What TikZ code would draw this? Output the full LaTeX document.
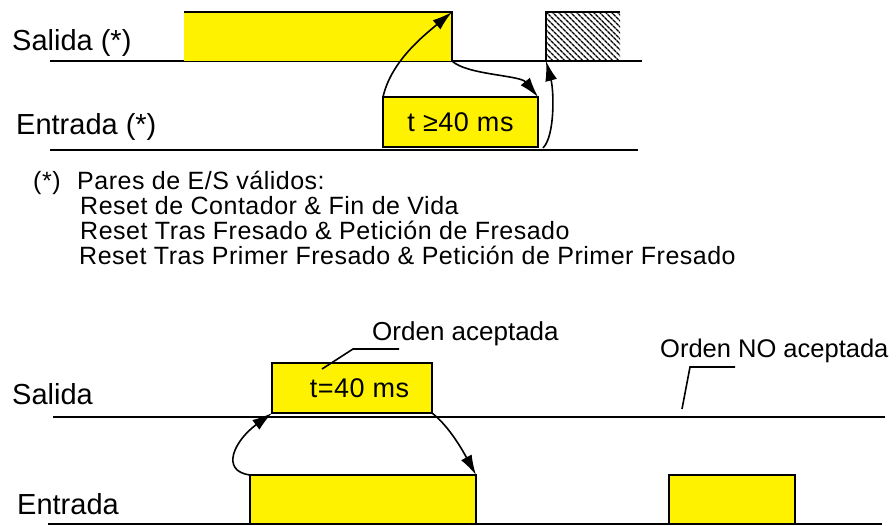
\documentclass[tikz,border=0pt]{standalone}
\usepackage{fontspec}
\setmainfont{Liberation Sans}
\newfontfamily\notefont[LetterSpace=2]{Liberation Sans}
\usetikzlibrary{arrows.meta,patterns.meta}
\begin{document}
\begin{tikzpicture}[x=1pt,y=-1pt,
  sig/.style={line width=2.2pt},
  lbl/.style={anchor=base west,inner sep=0,font=\fontsize{29}{33}\selectfont},
  note/.style={anchor=base west,inner sep=0,font=\notefont\fontsize{25}{28}\selectfont},
  pulse/.style={fill=yellow,draw,line width=2pt,inner sep=0,outer sep=0,anchor=north west},
  edge/.style={-{Latex[length=20pt,width=12pt]},line width=1.6pt},
  lead/.style={line width=1.6pt}]
  \useasboundingbox (0,0) rectangle (896,526);
  \node[lbl] (salA) at (12,51) {Salida (*)};
  \node[lbl] (entA) at (16,135) {Entrada (*)};
  \draw[sig] (50,61) -- (642,61);
  \draw[sig] (50,150) -- (638,150);
  \node[pulse,draw=none,minimum width=268pt,minimum height=49pt] (sA) at (184,12) {};
  \draw[sig] (sA.north west) -- (sA.north east) -- (sA.south east);
  \node[pulse,draw=none,fill=white,pattern={Lines[angle=-45,distance=4pt,line width=1.4pt]},
    minimum width=74pt,minimum height=49pt] (sB) at (546,12) {};
  \draw[sig] (sB.south west) -- (sB.north west) -- (sB.north east);
  \node[pulse,minimum width=155pt,minimum height=50pt,font=\notefont\fontsize{27}{30}\selectfont]
    (tA) at (383,97) {t ≥40 ms};
  \coordinate (cA) at (543,148);
  \draw[edge] (tA.north west) .. controls +(8,-35) and +(-30,25) .. (sA.north east);
  \draw[edge] (sA.south east) .. controls +(15,14) and +(-18,-22) .. (tA.north east);
  \draw[edge] (cA) .. controls +(12,-12) and +(8,30) .. (sB.south west);
  \node[note] (stA) at (33,190) {(*)};
  \node[note] (nA) at (77,190) {Pares de E/S válidos:};
  \foreach \y/\s/\txt in {215/80/{Reset de Contador \& Fin de Vida},
    240/80/{Reset Tras Fresado \& Petición de Fresado},
    265/79/{Reset Tras Primer Fresado \& Petición de Primer Fresado}}
    \node[note] at (\s,\y) {\txt};
  \node[lbl] (salB) at (12,404) {Salida};
  \node[lbl] (entB) at (17,514) {Entrada};
  \draw[sig] (53,417) -- (885,417);
  \draw[sig] (48,524) -- (882,524);
  \node[pulse,minimum width=160pt,minimum height=50pt,font=\notefont\fontsize{27}{30}\selectfont]
    (oA) at (272,363) {\hspace{15pt}t=40 ms};
  \node[pulse,minimum width=226pt,minimum height=49pt] (iA) at (250,475) {};
  \node[pulse,minimum width=126pt,minimum height=49pt] (iB) at (669,475) {};
  \draw[edge] (iA.north west) .. controls +(-30,-4) and +(-38,28) .. (oA.south west);
  \draw[edge] (oA.south east) .. controls +(18,14) and +(-12,-22) .. (iA.north east);
  \coordinate (pA) at (322,369);
  \coordinate (kA) at (353,349);
  \coordinate (qA) at (399,349);
  \draw[lead] (pA) -- (kA) -- (qA);
  \node[note,font=\fontsize{26}{30}\selectfont] (okA) at (372,341) {Orden aceptada};
  \coordinate (pB) at (682,409);
  \coordinate (kB) at (690,367);
  \coordinate (qB) at (735,367);
  \draw[lead] (pB) -- (kB) -- (qB);
  \node[note,font=\fontsize{25.5}{30}\selectfont] (noB) at (660,357) {Orden NO aceptada};
\end{tikzpicture}
\end{document}
